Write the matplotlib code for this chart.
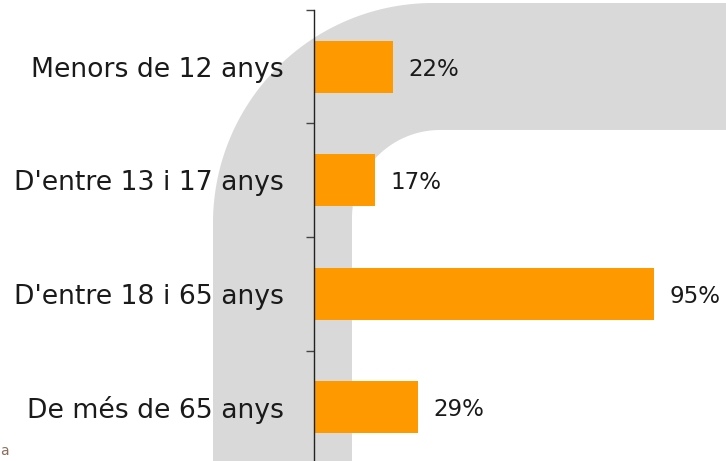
import numpy as np
import matplotlib.pyplot as plt
from matplotlib.patches import Polygon

categories = ["Menors de 12 anys", "D'entre 13 i 17 anys", "D'entre 18 i 65 anys", "De més de 65 anys"]
values = [22, 17, 95, 29]
labels = ["22%", "17%", "95%", "29%"]

W, H = 726, 461
fig = plt.figure(figsize=(W / 100, H / 100), dpi=100)

# fons decoratiu: banda gris arrodonida (coordenades en píxels)
bg = fig.add_axes([0, 0, 1, 1], zorder=0)
bg.set_xlim(0, W)
bg.set_ylim(H, 0)
bg.axis("off")

def arc(cx, cy, r, a0, a1, n=60):
    t = np.radians(np.linspace(a0, a1, n))
    return np.column_stack([cx + r * np.cos(t), cy - r * np.sin(t)])

R, r = 220, 88
outer = arc(213 + R, 3 + R, R, 180, 90)
inner = arc(352 + r, 130 + r, r, 90, 180)
pts = np.vstack([[[213, H + 5]], outer, [[W + 5, 3], [W + 5, 130]], inner, [[352, H + 5]]])
bg.add_patch(Polygon(pts, closed=True, facecolor="#d9d9d9", edgecolor="none"))
bg.text(0, 451, "a", color="#8c6d5c", fontsize=10, va="center", ha="left")

# gràfic de barres
ax = fig.add_axes([314 / W, -3 / H, 1 - 314 / W, 454 / H], zorder=1)
ax.patch.set_visible(False)
y = np.arange(len(categories))
ax.barh(y, values, height=0.46, color="#ff9900")
ax.set_ylim(len(categories) - 0.5, -0.5)
ax.set_xlim(0, (W - 314) / 3.58)

for yi, v, lab in zip(y, values, labels):
    ax.text(v + 4.3, yi + 0.02, lab, va="center", ha="left", fontsize=16.5, color="#1a1a1a")

for s in ["top", "right", "bottom"]:
    ax.spines[s].set_visible(False)
ax.spines["left"].set_color("#222222")
ax.spines["left"].set_linewidth(1.0)
ax.set_xticks([])
ax.set_yticks(y)
ax.set_yticklabels(categories, fontsize=19.2, color="#1a1a1a")
ax.set_yticks(np.arange(-0.5, len(categories)), minor=True)
ax.tick_params(axis="y", which="major", length=0, pad=22)
ax.tick_params(axis="y", which="minor", length=6, width=1, color="#444444")

fig.savefig("out.png", dpi=100)
